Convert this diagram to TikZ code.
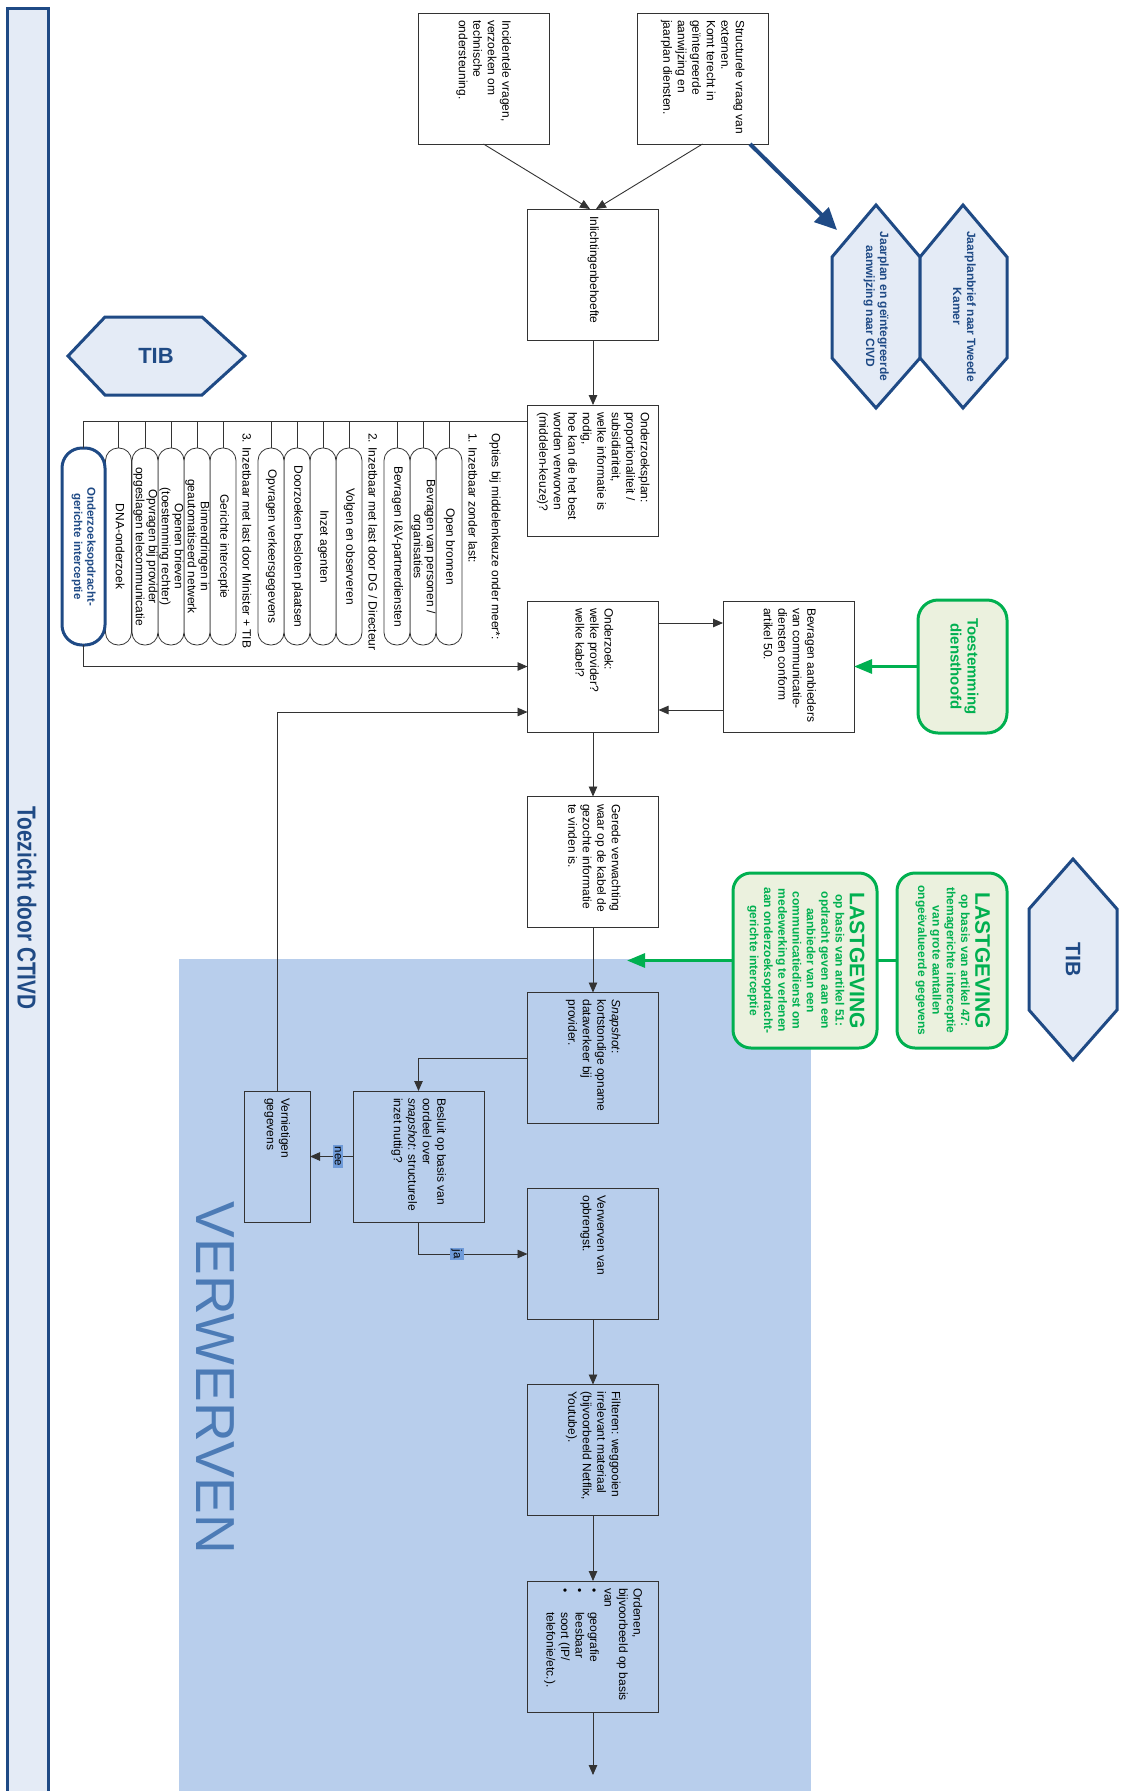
\documentclass[tikz,border=0pt]{standalone}
\usepackage{fontspec}
\setmainfont{Liberation Sans}
\usepackage{graphicx}
\usetikzlibrary{arrows.meta,calc}

\definecolor{dblue}{HTML}{1F4A85}
\definecolor{lblue}{HTML}{E4EBF6}
\definecolor{regblue}{HTML}{B8CEEC}
\definecolor{vtext}{HTML}{4C7BB6}
\definecolor{labblue}{HTML}{6F9BD9}
\definecolor{grn}{HTML}{00B050}
\definecolor{lgrn}{HTML}{EBF1DE}
\definecolor{edgec}{HTML}{333333}

\newcommand\boxtxt[2]{\rotatebox{-90}{\makebox[#1][l]{\begin{tabular}{@{}l@{}}#2\end{tabular}}}}
\newcommand\ctrtxt[1]{\rotatebox{-90}{\begin{tabular}{@{}c@{}}#1\end{tabular}}}

\begin{document}
\begin{tikzpicture}[x=1pt,y=-1pt,
  box/.style={draw=edgec,line width=1pt,minimum width=131pt,minimum height=131pt,inner sep=0pt,outer sep=0pt,font=\fontsize{12}{14.5}\selectfont},
  pill/.style={draw=edgec,fill=white,line width=0.8pt,rounded corners=12.5pt,minimum width=26pt,minimum height=197pt,inner sep=0pt,outer sep=0pt,font=\fontsize{12}{13}\selectfont},
  bluepill/.style={draw=dblue,fill=white,line width=3pt,rounded corners=20pt,minimum width=43pt,minimum height=197pt,inner sep=0pt,outer sep=0pt,font=\bfseries\fontsize{11.5}{13.3}\selectfont,text=dblue},
  ln/.style={draw=edgec,line width=0.9pt},
  arr/.style={draw=edgec,line width=0.9pt,-{Triangle[length=10pt,width=8.5pt]}},
  garr/.style={draw=grn,line width=3pt,-{Triangle[length=18pt,width=14pt]}},
  gln/.style={draw=grn,line width=3pt},
  barr/.style={draw=dblue,line width=4pt,-{Triangle[length=22pt,width=20pt]}},
  hex/.style={draw=dblue,fill=lblue,line width=3pt,line join=miter},
  hextext/.style={inner sep=0pt,text=dblue,font=\bfseries\fontsize{12}{14}\selectfont},
  gbox/.style={draw=grn,fill=lgrn,line width=3pt,inner sep=0pt,outer sep=0pt,text=grn,font=\bfseries\fontsize{12}{14.3}\selectfont},
  rot/.style={rotate=-90,inner sep=0pt,font=\fontsize{12}{14.5}\selectfont},
  lab/.style={fill=labblue,inner sep=1.5pt,font=\fontsize{11.5}{13}\selectfont}
]
\useasboundingbox (0,0) rectangle (1120,1791);
\clip (0,0) rectangle (1120,1791);
\fill[white] (0,0) rectangle (1120,1791);

% VERWERVEN region
\fill[regblue] (179,959) rectangle (811,1800);
\node[rotate=-90,inner sep=0pt,text=vtext,font=\fontsize{55}{60}\selectfont] (verwlab) at (215,1378) {VERWERVEN};

% left band
\node[draw=dblue,fill=lblue,line width=3pt,minimum width=41pt,minimum height=1792pt,inner sep=0pt] (band) at (27.5,904) {};
\node[inner sep=0pt,text=dblue,font=\bfseries\fontsize{26}{30}\selectfont] (ctivd) at (27,908) {\rotatebox{-90}{\scalebox{0.8}[1]{Toezicht door CTIVD}}};

% top boxes
\node[box] (struct) at (702.5,78.5) {\boxtxt{117pt}{Structurele vraag van\\externen.\\Komt terecht in\\geïntegreerde\\aanwijzing en\\jaarplan diensten.}};
\node[box] (incid) at (483.5,78.5) {\boxtxt{117pt}{Incidentele vragen,\\verzoeken om\\technische\\ondersteuning.}};
\node[box] (inl) at (593,274.5) {\boxtxt{117pt}{Inlichtingenbehoefte}};
\node[box] (plan) at (593,470.5) {\boxtxt{117pt}{Onderzoeksplan:\\proportionaliteit /\\subsidiariteit,\\welke informatie is\\nodig,\\hoe kan die het best\\worden verworven\\(middelen-keuze)?}};
\node[box] (ond) at (593,666.5) {\boxtxt{117pt}{Onderzoek:\\welke provider?\\welke kabel?}};
\node[box] (bev) at (788.5,666.5) {\boxtxt{117pt}{Bevragen aanbieders\\van communicatie-\\diensten conform\\artikel 50.}};
\node[box] (ger) at (593,862) {\boxtxt{116pt}{Gerede verwachting\\waar op de kabel de\\gezochte informatie\\te vinden is.}};
\node[box] (snap) at (593,1058) {\boxtxt{117pt}{\textit{Snapshot}:\\kortstondige opname\\dataverkeer bij\\provider.}};
\node[box] (bes) at (418.5,1156.5) {\boxtxt{117pt}{Besluit op basis van\\oordeel over\\\textit{snapshot}: structurele\\inzet nuttig?}};
\node[box,minimum width=66pt] (vern) at (277,1156.5) {\boxtxt{117pt}{Vernietigen\\gegevens}};
\node[box] (verw) at (593,1254) {\boxtxt{117pt}{Verwerven van\\opbrengst.}};
\node[box] (filt) at (593,1450) {\boxtxt{117pt}{Filteren: weggooien\\irrelevant materiaal\\(bijvoorbeeld Netflix,\\Youtube).}};
\node[box] (ord) at (593,1646.5) {\boxtxt{117pt}{Ordenen,\\bijvoorbeeld op basis\\van\\\makebox[24pt][l]{\textbullet}geografie\\\makebox[24pt][l]{\textbullet}leesbaar\\\makebox[24pt][l]{\textbullet}soort (IP/\\\hspace*{24pt}telefonie/etc.).}};

% hexagons
\draw[hex] (876,205) -- (920,257) -- (920,358) -- (876,408) -- (832,358) -- (832,257) -- cycle;
\draw[hex] (963,205) -- (1007,257) -- (1007,358) -- (963,408) -- (920,358) -- (920,257) -- cycle;
\node[hextext] (jpl) at (876,306.5) {\ctrtxt{Jaarplan en geïntegreerde\\aanwijzing naar CIVD}};
\node[hextext] (jpb) at (963,306.5) {\ctrtxt{Jaarplanbrief naar Tweede\\Kamer}};
\draw[hex] (68,356) -- (105,317) -- (202,317) -- (245,356) -- (202,395) -- (105,395) -- cycle;
\node[inner sep=0pt,text=dblue,font=\bfseries\fontsize{22}{24}\selectfont] (tiba) at (156,356) {TIB};
\draw[hex] (1073,859) -- (1117,909) -- (1117,1010) -- (1073,1060) -- (1029,1010) -- (1029,909) -- cycle;
\node[rotate=-90,inner sep=0pt,text=dblue,font=\bfseries\fontsize{21}{24}\selectfont] (tibb) at (1073,959.5) {TIB};

% green boxes
\node[gbox,rounded corners=20pt,minimum width=89pt,minimum height=133pt,font=\bfseries\fontsize{15}{17}\selectfont] (toest) at (962.5,666.5) {\ctrtxt{Toestemming\\diensthoofd}};
\node[gbox,rounded corners=18pt,minimum width=144pt,minimum height=175pt] (l51) at (805,960.5) {\ctrtxt{{\fontsize{21}{24}\selectfont LASTGEVING}\\op basis van artikel 51:\\opdracht geven aan een\\aanbieder van een\\communicatiedienst om\\medewerking te verlenen\\aan onderzoeksopdracht-\\gerichte interceptie}};
\node[gbox,rounded corners=18pt,minimum width=110pt,minimum height=175pt] (l47) at (952,960.5) {\ctrtxt{{\fontsize{21}{24}\selectfont LASTGEVING}\\op basis van artikel 47:\\themagerichte interceptie\\van grote aantallen\\ongeëvalueerde gegevens}};

% option labels
\node[rot,anchor=west] (optt) at (495,433) {Opties bij middelenkeuze onder meer*:};
\node[rot,anchor=west] (opt1) at (473,433) {1. Inzetbaar zonder last:};
\node[rot,anchor=west] (opt2) at (373,433) {2. Inzetbaar met last door DG / Directeur};
\node[rot,anchor=west] (opt3) at (247,433) {3. Inzetbaar met last door Minister + TIB};

% pills
\node[pill] (p1) at (449,546.5) {\ctrtxt{Open bronnen}};
\node[pill] (p2) at (423,546.5) {\ctrtxt{Bevragen van personen /\\organisaties}};
\node[pill] (p3) at (397,546.5) {\ctrtxt{Bevragen I\&V-partnerdiensten}};
\node[pill] (p4) at (349,546.5) {\ctrtxt{Volgen en observeren}};
\node[pill] (p5) at (323,546.5) {\ctrtxt{Inzet agenten}};
\node[pill] (p6) at (297,546.5) {\ctrtxt{Doorzoeken besloten plaatsen}};
\node[pill] (p7) at (271,546.5) {\ctrtxt{Opvragen verkeersgegevens}};
\node[pill] (p8) at (223,546.5) {\ctrtxt{Gerichte interceptie}};
\node[pill] (p9) at (197,546.5) {\ctrtxt{Binnendringen in\\geautomatiseerd netwerk}};
\node[pill] (p10) at (171,546.5) {\ctrtxt{Openen brieven\\(toestemming rechter)}};
\node[pill] (p11) at (145,546.5) {\ctrtxt{Opvragen bij provider\\opgeslagen telecommunicatie}};
\node[pill] (p12) at (118.5,546.5) {\ctrtxt{DNA-onderzoek}};
\node[bluepill] (bp) at (83.5,546.5) {\ctrtxt{Onderzoeksopdracht-\\gerichte interceptie}};

% connectors
\draw[arr] (incid.south) -- ([xshift=-3pt]inl.north);
\draw[arr] (struct.south) -- ([xshift=3pt]inl.north);
\coordinate (bstart) at ([xshift=-18pt]struct.south east);
\coordinate (btip) at (837,230);
\draw[barr] (bstart) -- (btip);
\draw[arr] (inl.south) -- (plan.north);

\coordinate (topln) at ([yshift=49.5pt]plan.west);
\draw[ln] (topln) -| (bp.north);
\foreach \p in {p1,p2,p3,p4,p5,p6,p7,p8,p9,p10,p11,p12}
  \draw[ln] (\p.north) -- (\p.north |- topln);
\draw[arr] (bp.south) |- (ond.west);

\draw[arr] ([yshift=43.5pt]ond.east) -- ([yshift=43.5pt]bev.west);
\draw[arr] ([yshift=-43.5pt]bev.west) -- ([yshift=-43.5pt]ond.east);
\draw[garr] (toest.west) -- (bev.east);

\draw[arr] (ond.south) -- (ger.north);
\draw[arr] (ger.south) -- (snap.north);
\draw[gln] (l47.west) -- (l51.east);
\coordinate (gtip) at (627,960.5);
\draw[garr] (l51.west) -- (gtip);

\draw[arr] (snap.west) -| (bes.north);
\draw[arr] (bes.west) -- node[lab,pos=0.35] (neelab) {\rotatebox{-90}{nee}} (vern.east);
\draw[arr] (bes.south) |- node[lab,pos=0.676] (jalab) {\rotatebox{-90}{ja}} (verw.west);
\draw[arr] (vern.north) |- ([yshift=-45.5pt]ond.west);
\draw[arr] (verw.south) -- (filt.north);
\draw[arr] (filt.south) -- (ord.north);
\coordinate (endtip) at (593,1775);
\draw[arr] (ord.south) -- (endtip);
\end{tikzpicture}
\end{document}
